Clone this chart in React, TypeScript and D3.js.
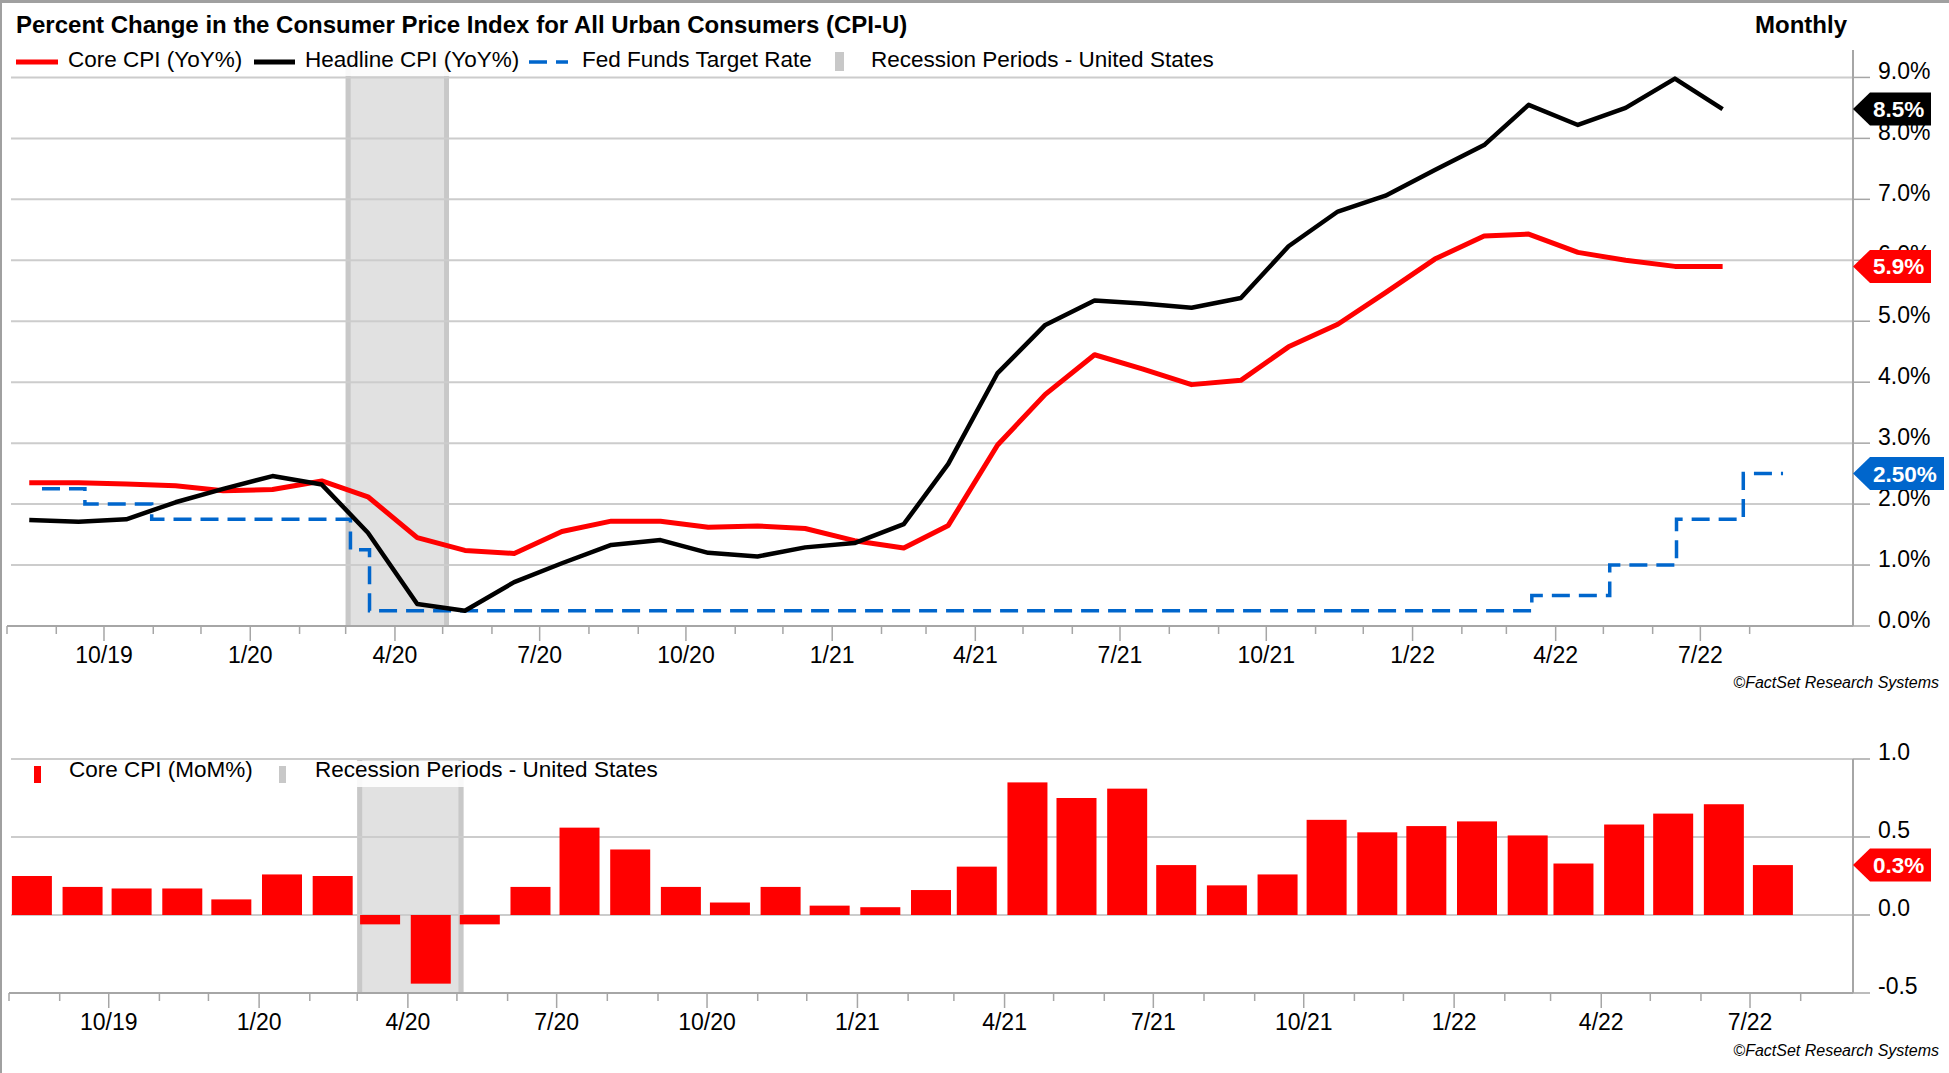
import React from "react";
import * as d3 from "d3";

const W = 1949;
const H = 1073;
const FONT = "'Liberation Sans', Arial, Helvetica, sans-serif";

// ---- DATA ----
const months = [
  "2019-08", "2019-09", "2019-10", "2019-11", "2019-12",
  "2020-01", "2020-02", "2020-03", "2020-04", "2020-05", "2020-06",
  "2020-07", "2020-08", "2020-09", "2020-10", "2020-11", "2020-12",
  "2021-01", "2021-02", "2021-03", "2021-04", "2021-05", "2021-06",
  "2021-07", "2021-08", "2021-09", "2021-10", "2021-11", "2021-12",
  "2022-01", "2022-02", "2022-03", "2022-04", "2022-05", "2022-06", "2022-07",
];

const coreYoY = [
  2.35, 2.35, 2.33, 2.3, 2.22,
  2.24, 2.38, 2.12, 1.45, 1.24, 1.19,
  1.55, 1.72, 1.72, 1.62, 1.64, 1.6,
  1.4, 1.28, 1.65, 2.97, 3.8, 4.45,
  4.22, 3.96, 4.03, 4.58, 4.95, 5.47,
  6.02, 6.4, 6.43, 6.13, 6.0, 5.9, 5.9,
];

const headlineYoY = [
  1.74, 1.71, 1.75, 2.03, 2.25,
  2.46, 2.32, 1.53, 0.36, 0.25, 0.72,
  1.03, 1.33, 1.41, 1.2, 1.14, 1.29,
  1.36, 1.67, 2.66, 4.15, 4.94, 5.34,
  5.29, 5.22, 5.38, 6.23, 6.8, 7.06,
  7.48, 7.89, 8.55, 8.22, 8.5, 8.98, 8.48,
];

const coreMoM = [
  0.25, 0.18, 0.17, 0.17, 0.1,
  0.26, 0.25, -0.06, -0.44, -0.06, 0.18,
  0.56, 0.42, 0.18, 0.08, 0.18, 0.06,
  0.05, 0.16, 0.31, 0.85, 0.75, 0.81,
  0.32, 0.19, 0.26, 0.61, 0.53, 0.57,
  0.6, 0.51, 0.33, 0.58, 0.65, 0.71, 0.32,
];

const fedDates = [
  "2019-08-23", "2019-09-19", "2019-10-31", "2020-03-04", "2020-03-16",
  "2022-03-17", "2022-05-05", "2022-06-16", "2022-07-28", "2022-08-22",
];
const fedRates = [2.25, 2.0, 1.75, 1.25, 0.25, 0.5, 1.0, 1.75, 2.5, 2.5];

const recession = ["2020-03-01", "2020-05-05"];

const topTicks = [0, 1, 2, 3, 4, 5, 6, 7, 8, 9];
const botTicks = [-0.5, 0, 0.5, 1.0];

const lastCore = "5.9%";
const lastHeadline = "8.5%";
const lastFed = "2.50%";
const lastMoM = "0.3%";

// ---- HELPERS ----
const parseDay = d3.timeParse("%Y-%m-%d");
const monthMid = (m: string) => {
  const [y, mo] = m.split("-").map(Number);
  return new Date(y, mo - 1, 15);
};

const GRID = "#CCCCCC";
const AXIS = "#A6A6A6";
const BAND = "#E1E1E1";
const BAND_EDGE = "#C8C8C8";

function Tag({ y, text, color, axisX }: { y: number; text: string; color: string; axisX: number }) {
  const h = 16.5;
  const xEnd = axisX + 20 + 13 * text.length + 6;
  const pts = [
    [axisX, y],
    [axisX + 17, y - h],
    [xEnd, y - h],
    [xEnd, y + h],
    [axisX + 17, y + h],
  ];
  return (
    <g>
      <polygon points={pts.map((p) => p.join(",")).join(" ")} fill={color} />
      <text x={axisX + 20} y={y + 8} fill="#fff" fontWeight="bold" fontSize={22.5} fontFamily={FONT}>
        {text}
      </text>
    </g>
  );
}

function XAxis({ x, y0, start, end }: { x: d3.ScaleTime<number, number>; y0: number; start: Date; end: Date }) {
  const ticks = d3.timeMonth.range(start, end);
  const [r0, r1] = x.range();
  return (
    <g>
      <line x1={r0} x2={r1} y1={y0} y2={y0} stroke={AXIS} strokeWidth={2} />
      {ticks.map((t, i) => {
        const major = t.getMonth() % 3 === 0;
        const xx = x(t);
        return (
          <g key={i}>
            <line x1={xx} x2={xx} y1={y0} y2={y0 + (major ? 15 : 8)} stroke={AXIS} strokeWidth={1.5} />
            {major && (
              <text x={xx} y={y0 + 37} textAnchor="middle" fontSize={23} fontFamily={FONT} fill="#000">
                {`${t.getMonth() + 1}/${String(t.getFullYear() % 100).padStart(2, "0")}`}
              </text>
            )}
          </g>
        );
      })}
    </g>
  );
}

export default function App() {
  const axisX = 1853;
  const xTop = d3.scaleTime().domain([new Date(2019, 7, 1), new Date(2022, 9, 5)]).range([7, axisX]);
  const yTop = d3.scaleLinear().domain([0, 9.45]).range([626, 50]);
  const xBot = d3.scaleTime().domain([new Date(2019, 7, 1), new Date(2022, 8, 2)]).range([9, axisX]);
  const yBot = d3.scaleLinear().domain([-0.5, 1.0]).range([993, 759]);

  const dates = months.map(monthMid);
  const line = d3
    .line<[Date, number]>()
    .x((d) => xTop(d[0]))
    .y((d) => yTop(d[1]));
  const corePath = line(dates.map((d, i) => [d, coreYoY[i]]) as [Date, number][]) || "";
  const headPath = line(dates.map((d, i) => [d, headlineYoY[i]]) as [Date, number][]) || "";
  const fedLine = d3
    .line<[Date, number]>()
    .x((d) => xTop(d[0]))
    .y((d) => yTop(d[1]))
    .curve(d3.curveStepAfter);
  const fedPath = fedLine(fedDates.map((d, i) => [parseDay(d) as Date, fedRates[i]]) as [Date, number][]) || "";

  const recStart = parseDay(recession[0]) as Date;
  const recEnd = parseDay(recession[1]) as Date;

  const tickStart = new Date(2019, 7, 1);
  const tickEnd = new Date(2022, 7, 2);

  const barW = 40;

  const band = (x: d3.ScaleTime<number, number>, yA: number, yB: number) => {
    const a = x(recStart);
    const b = x(recEnd);
    return (
      <g>
        <rect x={a} y={yA} width={b - a} height={yB - yA} fill={BAND} />
        <rect x={a} y={yA} width={5} height={yB - yA} fill={BAND_EDGE} />
        <rect x={b - 5} y={yA} width={5} height={yB - yA} fill={BAND_EDGE} />
      </g>
    );
  };

  return (
    <svg
      width={W}
      height={H}
      viewBox={`0 0 ${W} ${H}`}
      style={{ position: "absolute", left: 0, top: 0, background: "#fff" }}
      fontFamily={FONT}
    >
      <rect x={0} y={0} width={W} height={H} fill="#fff" />
      {/* frame */}
      <line x1={0} x2={W} y1={1.5} y2={1.5} stroke="#A0A0A0" strokeWidth={3} />
      <line x1={1} x2={1} y1={0} y2={H} stroke="#A0A0A0" strokeWidth={2} />

      {/* ===== TOP CHART ===== */}
      <text x={16} y={33} fontSize={24} fontWeight="bold" fill="#000">
        Percent Change in the Consumer Price Index for All Urban Consumers (CPI-U)
      </text>
      <text x={1847} y={33} fontSize={24} fontWeight="bold" fill="#000" textAnchor="end">
        Monthly
      </text>

      {band(xTop, yTop(9.45), yTop(0))}

      {topTicks.filter((t) => t > 0).map((t) => (
        <line key={t} x1={11} x2={axisX} y1={yTop(t)} y2={yTop(t)} stroke={GRID} strokeWidth={2} />
      ))}

      {/* legend background */}
      <rect x={8} y={40} width={1230} height={36} fill="#fff" opacity={0.88} />
      <line x1={16} x2={58} y1={62} y2={62} stroke="#FF0000" strokeWidth={5} />
      <text x={68} y={67} fontSize={22.5} fill="#000">Core CPI (YoY%)</text>
      <line x1={254} x2={295} y1={62} y2={62} stroke="#000" strokeWidth={5} />
      <text x={305} y={67} fontSize={22.5} fill="#000">Headline CPI (YoY%)</text>
      <line x1={529} x2={568} y1={62} y2={62} stroke="#0066CC" strokeWidth={3.5} strokeDasharray="18 9" />
      <text x={582} y={67} fontSize={22.5} fill="#000">Fed Funds Target Rate</text>
      <rect x={835} y={52} width={9} height={19} fill={BAND_EDGE} />
      <text x={871} y={67} fontSize={22.5} fill="#000">Recession Periods - United States</text>

      <path d={fedPath} fill="none" stroke="#0066CC" strokeWidth={3.5} strokeDasharray="18 9" />
      <path d={corePath} fill="none" stroke="#FF0000" strokeWidth={5} strokeLinejoin="round" />
      <path d={headPath} fill="none" stroke="#000" strokeWidth={4.5} strokeLinejoin="round" />

      <XAxis x={xTop} y0={yTop(0)} start={tickStart} end={tickEnd} />

      {/* right axis */}
      <line x1={axisX} x2={axisX} y1={yTop(9.45)} y2={yTop(0)} stroke={AXIS} strokeWidth={2} />
      {topTicks.map((t) => (
        <g key={t}>
          <line x1={axisX} x2={axisX + 17} y1={yTop(t)} y2={yTop(t)} stroke={AXIS} strokeWidth={1.5} />
          <text x={1878} y={yTop(t) + 2} fontSize={23} fill="#000">
            {`${t.toFixed(1)}%`}
          </text>
        </g>
      ))}
      <Tag y={yTop(headlineYoY[headlineYoY.length - 1])} text={lastHeadline} color="#000" axisX={axisX} />
      <Tag y={yTop(coreYoY[coreYoY.length - 1])} text={lastCore} color="#FF0000" axisX={axisX} />
      <Tag y={yTop(fedRates[fedRates.length - 1])} text={lastFed} color="#0066CC" axisX={axisX} />

      <text x={1939} y={688} fontSize={16} fontStyle="italic" textAnchor="end" fill="#000">
        ©FactSet Research Systems
      </text>

      {/* ===== BOTTOM CHART ===== */}
      {band(xBot, yBot(1.0), yBot(-0.5))}
      {botTicks.filter((t) => t > -0.5).map((t) => (
        <line key={t} x1={11} x2={axisX} y1={yBot(t)} y2={yBot(t)} stroke={GRID} strokeWidth={2} />
      ))}
      <rect x={8} y={761} width={660} height={26} fill="#fff" opacity={0.88} />

      {coreMoM.map((v, i) => {
        const cx = xBot(dates[i]);
        const y0 = yBot(0);
        const y1 = yBot(v);
        return (
          <rect
            key={i}
            x={cx - barW / 2}
            y={Math.min(y0, y1)}
            width={barW}
            height={Math.abs(y1 - y0)}
            fill="#FF0000"
          />
        );
      })}

      <rect x={34} y={766} width={7} height={17} fill="#FF0000" />
      <text x={69} y={777} fontSize={22.5} fill="#000">Core CPI (MoM%)</text>
      <rect x={279} y={766} width={7} height={17} fill={BAND_EDGE} />
      <text x={315} y={777} fontSize={22.5} fill="#000">Recession Periods - United States</text>

      <XAxis x={xBot} y0={yBot(-0.5)} start={tickStart} end={tickEnd} />

      <line x1={axisX} x2={axisX} y1={yBot(1.0)} y2={yBot(-0.5)} stroke={AXIS} strokeWidth={2} />
      {botTicks.map((t) => (
        <g key={t}>
          <line x1={axisX} x2={axisX + 17} y1={yBot(t)} y2={yBot(t)} stroke={AXIS} strokeWidth={1.5} />
          <text x={1878} y={yBot(t) + 1} fontSize={23} fill="#000">
            {t.toFixed(1)}
          </text>
        </g>
      ))}
      <Tag y={yBot(coreMoM[coreMoM.length - 1])} text={lastMoM} color="#FF0000" axisX={axisX} />

      <text x={1939} y={1056} fontSize={16} fontStyle="italic" textAnchor="end" fill="#000">
        ©FactSet Research Systems
      </text>
    </svg>
  );
}
